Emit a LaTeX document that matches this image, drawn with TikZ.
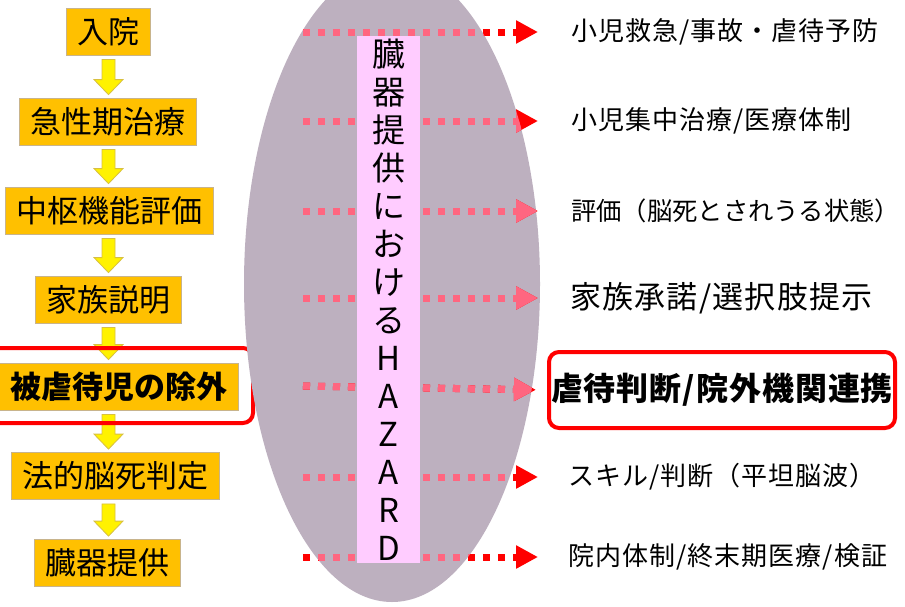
\documentclass[tikz,border=0pt]{standalone}
\usepackage{fontspec}
\newfontfamily\jp{Noto Sans CJK JP}
\newfontfamily\jpsp{Noto Sans CJK JP}[LetterSpace=4]
\newfontfamily\jpspb{Noto Sans CJK JP}[LetterSpace=3]
\usetikzlibrary{arrows.meta,calc}
\definecolor{boxor}{HTML}{FFC000}
\definecolor{boxedge}{HTML}{C8B48C}
\definecolor{arredge}{HTML}{D8C040}
\definecolor{ellcol}{HTML}{BDB0BF}
\definecolor{hazpink}{HTML}{FFCCFF}
\definecolor{dotpink}{HTML}{FF6680}
\definecolor{dotred}{HTML}{FF0000}
\begin{document}
\begin{tikzpicture}[x=1pt,y=-1pt,
  flow/.style={draw=boxedge, line width=0.8pt, fill=boxor, font=\jp\fontsize{31}{31}\selectfont, inner xsep=11pt, inner ysep=0pt, minimum height=47pt},
  yarrow/.style={fill=yellow, draw=arredge, line width=0.8pt, line join=miter},
  hz/.style={line width=7pt, dash pattern=on 7pt off 8pt, -{Triangle[length=22pt,width=22pt]}},
  rtext/.style={anchor=west, inner sep=0pt, font=\jpsp\fontsize{26}{26}\selectfont},
  redframe/.style={draw=dotred, line width=4pt, rounded corners=10pt, inner sep=0pt}]
\useasboundingbox (0,0) rectangle (905,606);
\fill[white] (0,0) rectangle (905,606);

% left flow
\node[flow] (b1) at (108,31.5) {入院};
\node[flow] (b2) at (108,121.5) {急性期治療};
\node[flow] (b3) at (109.5,210.5) {中枢機能評価};
\node[flow] (b4) at (108.5,299.5) {家族説明};
\node[flow, font=\jp\bfseries\fontsize{31}{31}\selectfont] (b5) at (118.5,386.5) {被虐待児の除外};
\node[flow] (b6) at (115,476) {法的脳死判定};
\node[flow] (b7) at (107.5,563) {臓器提供};

\newcommand\yarr[2]{%
  \draw[yarrow] let \p1=(#1.south), \p2=(#2.north) in
    (102pt,{\y1-4pt}) -- (115pt,{\y1-4pt}) -- (115pt,{\y2+18pt}) -- (123pt,{\y2+18pt})
    -- (108.5pt,{\y2+3pt}) -- (94pt,{\y2+18pt}) -- (102pt,{\y2+18pt}) -- cycle;}
\yarr{b1}{b2}
\yarr{b2}{b3}
\yarr{b3}{b4}
\yarr{b4}{b5}
\yarr{b5}{b6}
\yarr{b6}{b7}

\node[redframe, minimum width=263pt, minimum height=75pt] (hl1) at (121.5,385.5) {};

% ellipse
\fill[ellcol] (392,284) ellipse [x radius=148pt, y radius=318pt];

% right texts
\node[rtext] (t1) at (571,32) {小児救急/事故・虐待予防};
\node[rtext] (t2) at (571,121) {小児集中治療/医療体制};
\node[rtext, font=\jp\fontsize{25.3}{26}\selectfont] (t3) at (571,211) {評価（脳死とされうる状態）};
\node[rtext, font=\jpsp\fontsize{31}{31}\selectfont] (t4) at (570,298) {家族承諾/選択肢提示};
\node[redframe, minimum width=346pt, minimum height=76pt, font=\jpspb\bfseries\fontsize{32}{32}\selectfont] (t5) at (722,390) {虐待判断/院外機関連携};
\node[rtext] (t6) at (568,477) {スキル/判断（平坦脳波）};
\node[rtext] (t7) at (568,557) {院内体制/終末期医療/検証};

\coordinate (s1) at (303,32);
\coordinate (s2) at (303,121);
\coordinate (s3) at (303,211);
\coordinate (s4) at (303,298);
\coordinate (s5) at (303,386);
\coordinate (s6) at (303,477);
\coordinate (s7) at (303,557);

\newcommand\hzlines{%
  \draw[hz, shorten >=33pt] (s1) -- (t1.west);
  \draw[hz, shorten >=33pt] (s2) -- (t2.west);
  \draw[hz, shorten >=33pt] (s3) -- (t3.west);
  \draw[hz, shorten >=32pt] (s4) -- (t4.west);
  \draw[hz, shorten >=11pt] (s5) -- (t5.west);
  \draw[hz, shorten >=30pt] (s6) -- (t6.west);
  \draw[hz, shorten >=30pt] (s7) -- (t7.west);}
\begin{scope}[dotred]
  \hzlines
\end{scope}
\begin{scope}[dotpink]
  \clip (392,284) ellipse [x radius=148pt, y radius=318pt];
  \hzlines
\end{scope}

% hazard box
\node[fill=hazpink, minimum width=63pt, minimum height=527pt, inner sep=0pt, align=center,
      font=\jp\fontsize{33}{38}\selectfont] (haz) at (388.5,299.5)
  {臓\\器\\提\\供\\に\\お\\け\\る\\H\\A\\Z\\A\\R\\D};
\end{tikzpicture}
\end{document}
